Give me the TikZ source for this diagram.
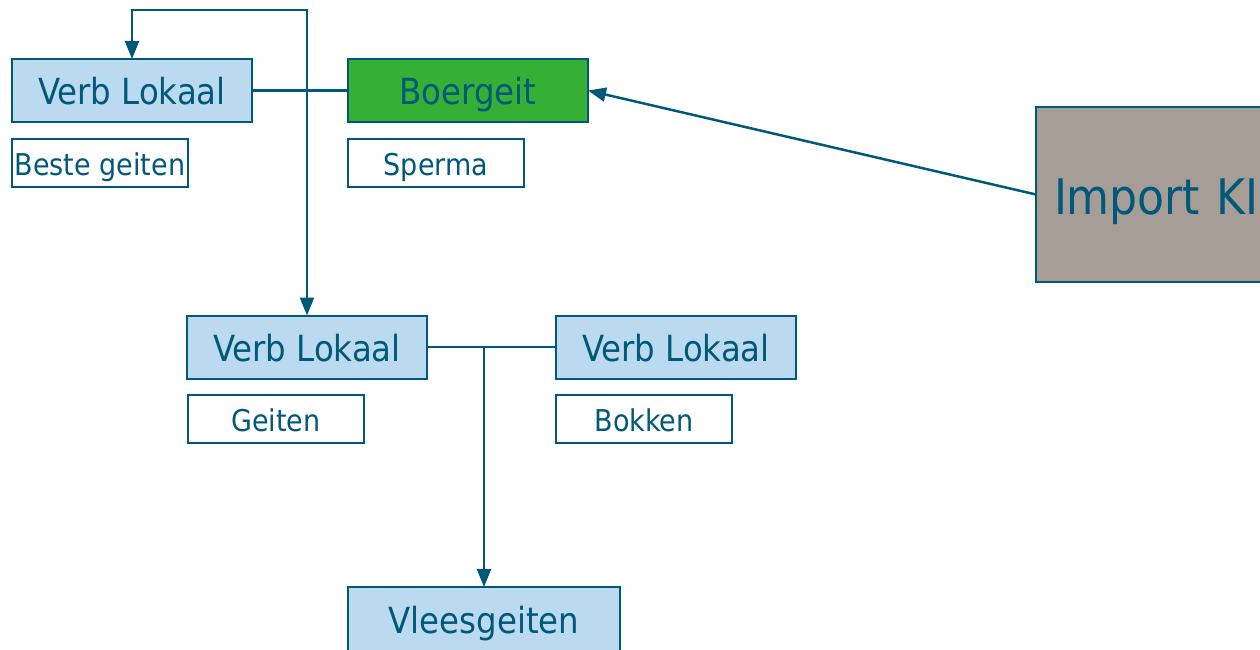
\documentclass[tikz,border=0pt]{standalone}
\usepackage{fontspec}
\setmainfont{DejaVu Sans Condensed}
\usetikzlibrary{arrows.meta}
\definecolor{lijn}{HTML}{00587A}
\definecolor{lichtblauw}{HTML}{BBDAEF}
\definecolor{groen}{HTML}{35B035}
\definecolor{grijs}{HTML}{A69D96}

\begin{document}
\begin{tikzpicture}[x=0.5pt, y=-0.5pt,
  every node/.style={draw=lijn, line width=1pt, text=lijn, inner sep=0pt, outer sep=0pt},
  groot/.style={fill=lichtblauw, minimum width=120pt, minimum height=31.5pt,
    text height=18pt, text depth=3.6pt, font=\fontsize{18}{20}\selectfont},
  klein/.style={fill=white, minimum width=88pt, minimum height=24pt,
    text height=15pt, text depth=3pt, font=\fontsize{15}{17}\selectfont},
  lijnstuk/.style={draw=lijn, line width=1.25pt},
  pijl/.style={lijnstuk, -{Triangle[width=7pt,length=9pt]}}]
\useasboundingbox (0,0) rectangle (1260,649);

\node[groot] (lokaal1) at (132,90.5) {Verb Lokaal};
\node[groot, fill=groen] (boergeit) at (468,90.5) {Boergeit};
\node[klein] (beste) at (100,163) {Beste geiten};
\node[klein] (sperma) at (436,163) {Sperma};

\node[groot] (lokaal2) at (307,347) {Verb Lokaal};
\node[groot] (lokaal3) at (676,347) {Verb Lokaal};
\node[klein] (geiten) at (276,419) {Geiten};
\node[klein] (bokken) at (644,419) {Bokken};

\node[groot, minimum width=136pt, minimum height=32pt] (vlees) at (484,619) {Vleesgeiten};

\node[fill=grijs, anchor=north west, minimum height=87.5pt, text width=116pt, inner xsep=9pt,
  text height=24.5pt, text depth=4.9pt, align=left, font=\fontsize{24.5}{28}\selectfont]
  (import) at (1036,107) {Import KI};

% lijnen
\coordinate (split1) at (307,90.5);
\coordinate (split2) at (484,347);
\draw[lijnstuk] (lokaal1.east) -- (boergeit.west);
\draw[pijl] (split1) -- (307,10) -| (lokaal1.north);
\draw[pijl] (split1) -- (lokaal2.north);
\draw[lijnstuk] (lokaal2.east) -- (lokaal3.west);
\draw[pijl] (split2) -- (vlees.north);
\draw[pijl] (import.west) -- (boergeit.east);
\end{tikzpicture}
\end{document}
